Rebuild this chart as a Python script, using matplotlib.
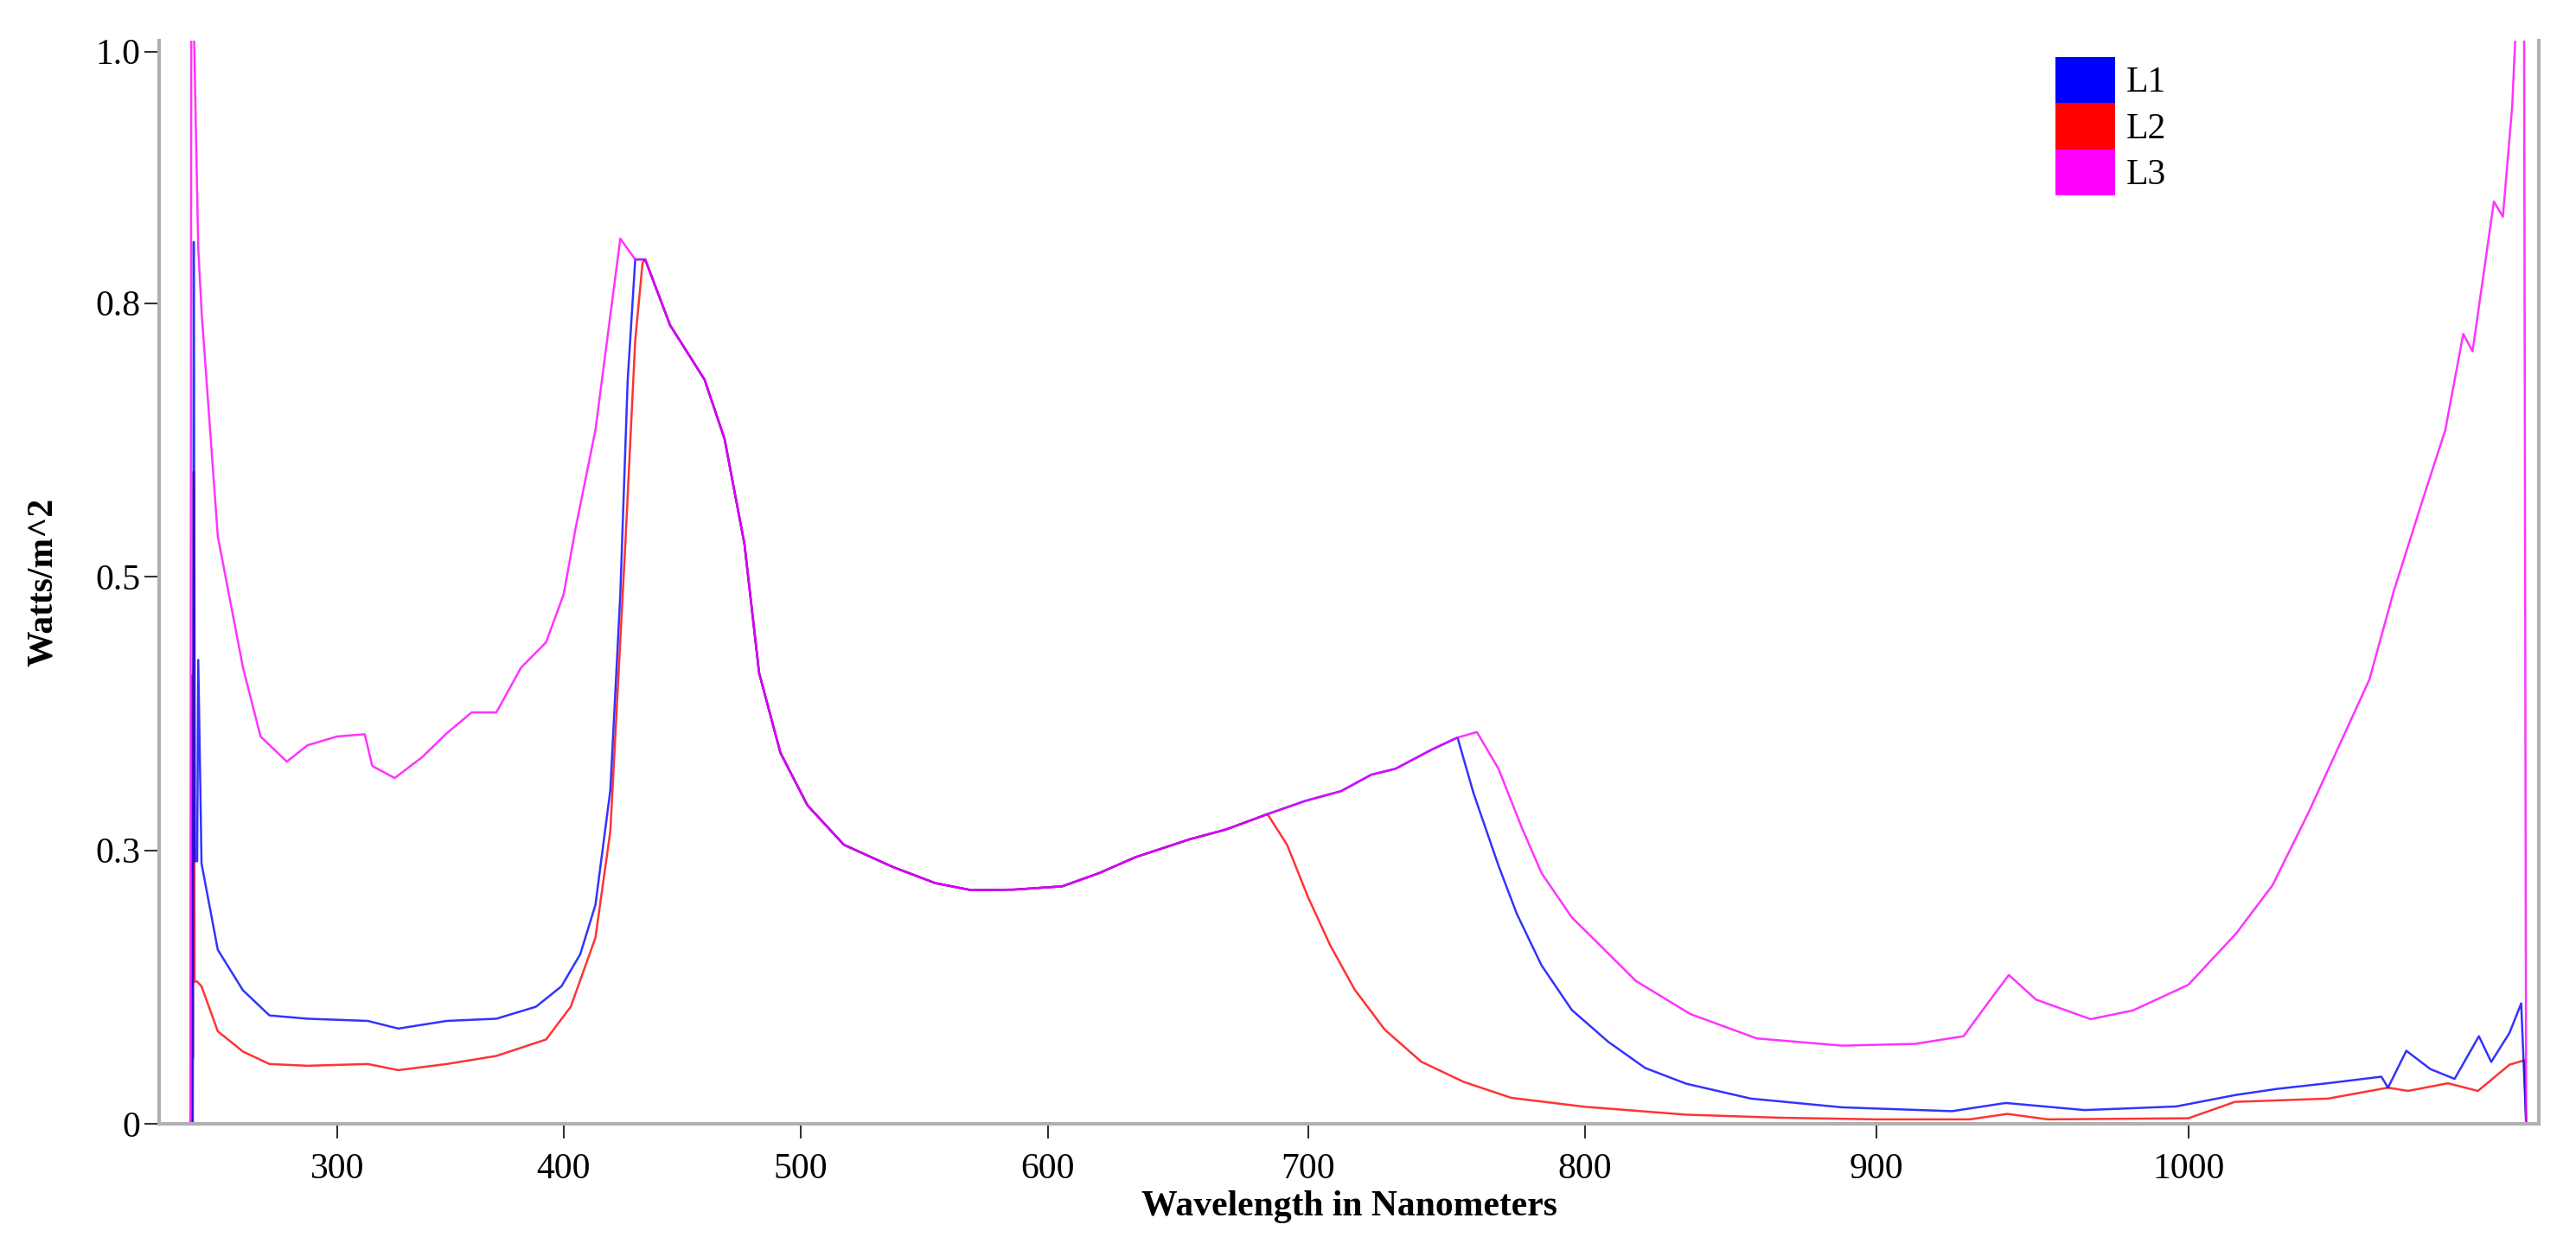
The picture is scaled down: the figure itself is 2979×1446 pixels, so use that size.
import numpy as np
import matplotlib
matplotlib.use("Agg")
import matplotlib.pyplot as plt
from matplotlib.patches import Patch

# Axis calibration (tick wavelengths and their pixel positions on the original, nonlinear axis)
tick_wl = [200, 300, 400, 500, 600, 700, 800, 900, 1000, 1100, 1200]
tick_pos = [139, 390, 652, 926, 1212, 1513, 1833, 2170, 2531, 2916, 3326]

# L3 (magenta) full curve
l3_wl = [218, 232.3, 232.8, 233.5, 236, 237.6, 245, 256.6, 264.7, 276.8, 286.4, 300, 312.2, 315.5,
         325.4, 337.5, 348.4, 359.4, 370.3, 381.2, 392.2, 400, 405, 413.4, 423.9, 430.2, 434.4,
         444.9, 459.5, 467.9, 476.3, 482.5, 491.5, 502.8, 517.5, 537, 554.4, 569, 586.2, 605.5,
         619.6, 633.6, 654.5, 668.5, 684.4, 698.8, 711.9, 722.8, 731.6, 744.7, 754, 761, 768.8,
         777.5, 784.4, 795.3, 803.9, 817.5, 836.2, 859, 888.3, 912.4, 928, 935.7, 942.5, 951.2,
         968.7, 982.3, 1000, 1014.4, 1025.3, 1036.2, 1045.3, 1054.4, 1061.7, 1070.8, 1077.2,
         1082.6, 1085.4, 1091.8, 1094.5, 1097.3, 1099.1, 1100.8, 1101.4, 1105]
l3_val = [0, 0, 1.05, 1.05, 0.80, 0.74, 0.537, 0.417, 0.354, 0.331, 0.346, 0.354, 0.356, 0.327,
          0.316, 0.335, 0.357, 0.376, 0.376, 0.417, 0.44, 0.484, 0.544, 0.634, 0.809, 0.79, 0.79,
          0.73, 0.68, 0.626, 0.53, 0.412, 0.339, 0.291, 0.255, 0.235, 0.22, 0.2135, 0.214, 0.217,
          0.229, 0.2436, 0.26, 0.269, 0.283, 0.295, 0.304, 0.319, 0.3245, 0.342, 0.353, 0.358,
          0.3245, 0.269, 0.229, 0.1886, 0.1666, 0.1306, 0.1003, 0.078, 0.0714, 0.073, 0.080,
          0.110, 0.136, 0.1135, 0.0956, 0.1036, 0.127, 0.174, 0.218, 0.285, 0.3455, 0.406,
          0.4866, 0.574, 0.634, 0.722, 0.706, 0.843, 0.829, 0.93, 1.05, 1.05, 0, 0]

# L1 (blue): own segments; between 430.2 and 754 it follows L3
l1_wl_a = [218, 233.5, 233.9, 234.5, 235.5, 236, 237.5, 245, 256.6, 268.8, 286.4, 313.5, 327,
           348.4, 370.3, 387.8, 399, 407, 413.4, 419.7, 423.9, 427, 430.2]
l1_val_a = [0, 0, 0.806, 0.24, 0.24, 0.424, 0.238, 0.159, 0.122, 0.099, 0.096, 0.094, 0.087,
            0.094, 0.096, 0.107, 0.1256, 0.155, 0.2, 0.305, 0.484, 0.679, 0.79]
l1_wl_b = [754, 759.8, 768.8, 775.4, 784.4, 795.3, 808, 820.7, 834.8, 857, 888.3, 924.3, 941.5,
           966.8, 996.1, 1014.4, 1027, 1041.8, 1058, 1060, 1065.5, 1072.7, 1080, 1087.3, 1091,
           1096.5, 1100, 1101.4, 1105]
l1_val_b = [0.353, 0.302, 0.236, 0.192, 0.1446, 0.104, 0.075, 0.051, 0.0366, 0.023, 0.015,
            0.0115, 0.019, 0.0125, 0.0158, 0.0264, 0.032, 0.037, 0.043, 0.033, 0.0667, 0.05,
            0.041, 0.08, 0.0565, 0.0831, 0.110, 0, 0]

# L2 (red): own segments; between 433.3 and 684.4 it follows L3
l2_wl_a = [218, 233.0, 233.2, 233.5, 233.9, 234.3, 235.5, 237.5, 245, 256.6, 268.8, 286.4, 313.5,
           327, 348.4, 370.3, 392.2, 403, 413.4, 419.7, 426, 430.2, 433.3]
l2_val_a = [0, 0, 0.41, 0.06, 0.596, 0.13, 0.13, 0.1256, 0.0845, 0.066, 0.0546, 0.053, 0.0546,
            0.049, 0.0546, 0.062, 0.077, 0.107, 0.17, 0.2676, 0.529, 0.716, 0.787]
l2_wl_b = [684.4, 691.9, 700, 708, 716.8, 727.7, 740.9, 756.2, 773.4, 800, 834.8, 867, 900, 930,
           942, 955, 1000, 1014, 1042, 1060, 1066, 1078, 1087, 1096.5, 1100.9, 1101.4, 1105]
l2_val_b = [0.283, 0.255, 0.207, 0.163, 0.1227, 0.086, 0.0567, 0.0383, 0.0237, 0.0155, 0.0083,
            0.0055, 0.004, 0.004, 0.009, 0.004, 0.005, 0.02, 0.023, 0.033, 0.03, 0.037, 0.03,
            0.054, 0.058, 0, 0]

y_ticks = [0, 0.25, 0.5, 0.75, 0.98]
y_tick_labels = ["0", "0.3", "0.5", "0.8", "1.0"]
x_ticks = [300, 400, 500, 600, 700, 800, 900, 1000]
series_names = ["L1", "L2", "L3"]
colors = ["#0000FF", "#FF0000", "#FF00FF"]


def join(wa, va, wb, vb, lo, hi):
    l3w = np.array(l3_wl); l3v = np.array(l3_val)
    m = (l3w > lo) & (l3w < hi)
    return (np.concatenate([wa, l3w[m], wb]), np.concatenate([va, l3v[m], vb]))


l1x, l1y = join(l1_wl_a, l1_val_a, l1_wl_b, l1_val_b, 430.2, 754)
l2x, l2y = join(l2_wl_a, l2_val_a, l2_wl_b, l2_val_b, 433.3, 684.4)

fwd = lambda x: np.interp(x, tick_wl, tick_pos)
inv = lambda p: np.interp(p, tick_pos, tick_wl)

plt.rcParams['font.family'] = ['Liberation Serif', 'DejaVu Serif']
fig = plt.figure(figsize=(29.79, 14.46), dpi=100)
ax = fig.add_axes([0.0618, 0.101, 0.9238, 0.8665])
ax.set_xscale('function', functions=(fwd, inv))

ax.plot(l2x, l2y, color=colors[1], lw=1.8, alpha=0.8)
ax.plot(l1x, l1y, color=colors[0], lw=1.8, alpha=0.8)
ax.plot(l3_wl, l3_val, color=colors[2], lw=1.8, alpha=0.8)

ax.set_xlim(218, 1105)
ax.set_ylim(0, 0.99)
ax.set_xticks(x_ticks)
ax.set_xticklabels([str(t) for t in x_ticks])
ax.set_yticks(y_ticks)
ax.set_yticklabels(y_tick_labels)
ax.tick_params(axis='both', labelsize=30, length=12, width=1.5, color='#333333')
ax.tick_params(axis='x', pad=12)
ax.minorticks_off()
for s in ['left', 'bottom', 'right']:
    ax.spines[s].set_color('#b0b0b0')
    ax.spines[s].set_linewidth(3)
ax.spines['top'].set_visible(False)

ax.set_xlabel("Wavelength in Nanometers", fontsize=30, fontweight='bold', labelpad=4)
ax.set_ylabel("Watts/m^2", fontsize=30, fontweight='bold', labelpad=30)

handles = [Patch(facecolor=c, edgecolor='none') for c in colors]
leg = ax.legend(handles, series_names, loc='upper left', bbox_to_anchor=(0.797, 0.985),
                frameon=False, fontsize=30, handlelength=1.65, handleheight=1.6,
                labelspacing=0.0, handletextpad=0.3, borderpad=0, borderaxespad=0)

fig.savefig("out.png", dpi=100)
